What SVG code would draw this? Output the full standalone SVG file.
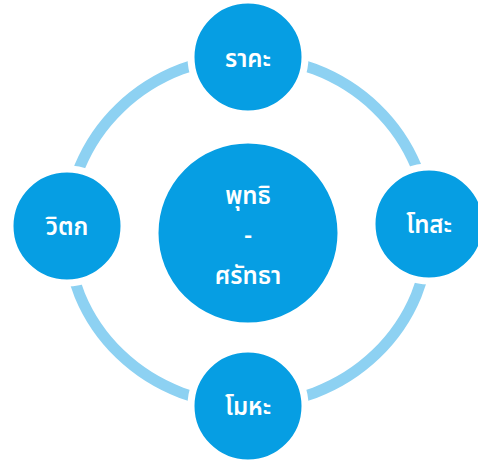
<svg xmlns="http://www.w3.org/2000/svg" width="478" height="460" viewBox="0 0 478 460">
<style>
.node{fill:#069EE3;stroke:#ffffff;stroke-width:7}
.lbl{fill:#ffffff;font-family:"Noto Sans Thai","Noto Sans","DejaVu Sans",sans-serif;font-size:24px;font-weight:600;text-anchor:middle;dominant-baseline:central}
.ring{fill:none;stroke:#8DD1F2;stroke-width:11}
</style>
<rect width="478" height="460" fill="#ffffff"/>
<g id="connectors">
<ellipse class="ring" cx="248" cy="231" rx="181" ry="174"/>
</g>
<g id="node-center">
<circle class="node" cx="248" cy="233" r="93"/>
<text class="lbl" x="248" y="197">พุทธิ</text>
<text class="lbl" x="248" y="236">-</text>
<text class="lbl" x="248" y="277">ศรัทธา</text>
</g>
<g id="node-top">
<circle class="node" cx="248" cy="57" r="57"/>
<text class="lbl" x="248" y="60">ราคะ</text>
</g>
<g id="node-right">
<circle class="node" cx="429" cy="224" r="57"/>
<text class="lbl" x="429" y="226">โทสะ</text>
</g>
<g id="node-bottom">
<circle class="node" cx="248" cy="406" r="57"/>
<text class="lbl" x="248" y="408">โมหะ</text>
</g>
<g id="node-left">
<circle class="node" cx="67" cy="226" r="57"/>
<text class="lbl" x="67" y="228">วิตก</text>
</g>
</svg>
